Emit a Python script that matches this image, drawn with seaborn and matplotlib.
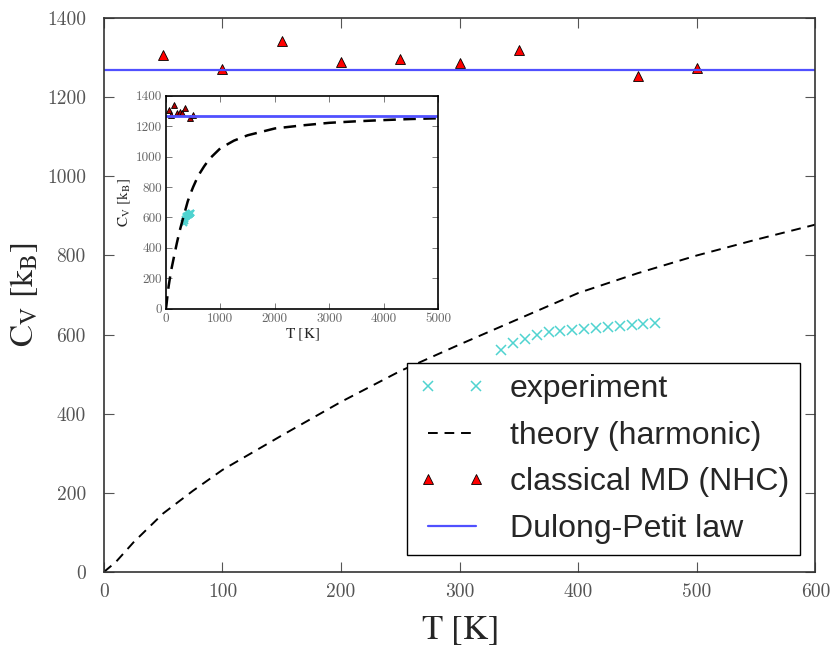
import matplotlib
matplotlib.use("Agg")
import matplotlib.pyplot as plt
import seaborn as sns
import numpy as np

# ---- data ----
exp_T = [335, 345, 355, 365, 375, 385, 395, 405, 415, 425, 435, 445, 455, 465]
exp_Cv = [561, 579, 590, 600, 606, 610, 612, 615, 617, 620, 622, 625, 627, 630]

theory_T = [0, 10, 25, 50, 75, 100, 150, 200, 250, 300, 350, 400, 450, 500, 550, 600,
            700, 800, 1000, 1250, 1500, 2000, 2500, 3000, 3500, 4000, 4500, 5000]
theory_Cv = [0, 25, 75, 148, 205, 258, 345, 430, 508, 575, 640, 705, 755, 800, 840, 878,
             935, 985, 1055, 1105, 1140, 1185, 1205, 1222, 1232, 1240, 1247, 1252]

md_T = [50, 100, 150, 200, 250, 300, 350, 450, 500]
md_Cv = [1307, 1271, 1342, 1289, 1296, 1286, 1319, 1253, 1274]

dulong_petit = 1269

x_ticks_main = [0, 100, 200, 300, 400, 500, 600]
y_ticks = [0, 200, 400, 600, 800, 1000, 1200, 1400]
x_ticks_inset = [0, 1000, 2000, 3000, 4000, 5000]

# ---- style ----
sns.set_style("ticks")
plt.rcParams["font.family"] = ["DejaVu Serif"]
plt.rcParams["mathtext.fontset"] = "stix"

exp_color = "#4fd3d0"
dp_color = "#5050ff"

fig = plt.figure(figsize=(8.38, 6.47), dpi=100)
ax = fig.add_axes([0.124, 0.116, 0.849, 0.856])


def draw(axis, small=False):
    ms_x = 5 if small else 7
    ms_t = 4 if small else 7.5
    sns.lineplot(x=exp_T, y=exp_Cv, ax=axis, marker="x", linestyle="none",
                 color=exp_color, markeredgecolor=exp_color, markersize=ms_x,
                 markeredgewidth=1.1 if not small else 1.5,
                 label="experiment", errorbar=None)
    sns.lineplot(x=theory_T, y=theory_Cv, ax=axis, color="black",
                 linewidth=1.4 if not small else 1.8, dashes=(5, 3.5) if not small else (5, 3),
                 label="theory (harmonic)", errorbar=None)
    sns.lineplot(x=md_T, y=md_Cv, ax=axis, marker="^", linestyle="none",
                 markerfacecolor="red" if not small else "#b00000", markeredgecolor="black",
                 markeredgewidth=0.6, markersize=ms_t, color="red",
                 label="classical MD (NHC)", errorbar=None)
    axis.axhline(dulong_petit, color=dp_color, linewidth=1.6 if not small else 2.0,
                 label="Dulong-Petit law")


draw(ax)
ax.set_xlim(0, 600)
ax.set_ylim(0, 1400)
ax.set_xticks(x_ticks_main)
ax.set_yticks(y_ticks)
ax.set_xticklabels([str(v) for v in x_ticks_main], fontfamily="cmr10", fontsize=14, color="#333333")
ax.set_yticklabels([str(v) for v in y_ticks], fontfamily="cmr10", fontsize=14, color="#333333")
ax.tick_params(direction="in", top=True, right=True, length=7, width=0.8, colors="#555555")
ax.tick_params(axis="x", pad=8)
ax.tick_params(axis="y", pad=13)
for s in ax.spines.values():
    s.set_color("#333333")
    s.set_linewidth(1.2)
ax.set_xlabel(r"$\mathrm{T\ [K]}$", fontsize=25, labelpad=9)
ax.set_ylabel(r"$\mathrm{C_V\ [k_B]}$", fontsize=24, labelpad=5)

leg = ax.legend(loc="lower right", bbox_to_anchor=(0.978, 0.031), borderaxespad=0,
                numpoints=2, handlelength=2.1, handletextpad=0.76, fancybox=False,
                framealpha=1, edgecolor="black", labelspacing=0.52, borderpad=0.34,
                prop={"family": "Liberation Sans", "size": 23})
leg.get_frame().set_linewidth(1.0)

# ---- inset ----
ax2 = fig.add_axes([0.198, 0.523, 0.325, 0.329])
draw(ax2, small=True)
ax2.set_xlim(0, 5000)
ax2.set_ylim(0, 1400)
ax2.set_xticks(x_ticks_inset)
ax2.set_yticks(y_ticks)
ax2.set_xticklabels([str(v) for v in x_ticks_inset], fontfamily="cmr10", fontsize=9.5, color="#444444")
ax2.set_yticklabels([str(v) for v in y_ticks], fontfamily="cmr10", fontsize=9.5, color="#444444")
ax2.tick_params(direction="in", top=True, right=True, length=4, width=0.6, pad=3, colors="#666666")
for s in ax2.spines.values():
    s.set_color("black")
    s.set_linewidth(1.2)
ax2.set_xlabel(r"$\mathrm{T\ [K]}$", fontsize=11, labelpad=1)
ax2.set_ylabel(r"$\mathrm{C_V\ [k_B]}$", fontsize=11, labelpad=2)
ax2.get_legend().remove()

fig.savefig("out.png", dpi=100)
